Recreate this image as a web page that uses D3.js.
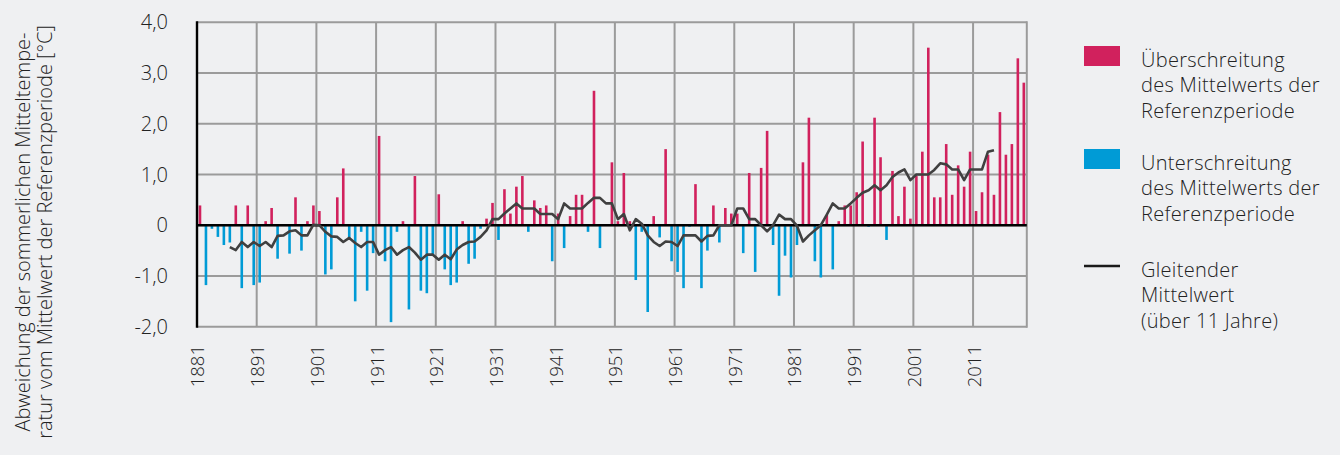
<!DOCTYPE html>
<html>
<head>
<meta charset="utf-8">
<script src="https://cdn.jsdelivr.net/npm/d3@7"></script>
<style>
  html, body { margin: 0; padding: 0; background: #eff0f2; }
  svg { display: block; font-family: "Open Sans", "Noto Sans", sans-serif; }
</style>
</head>
<body>
<svg id="chart" width="1340" height="455"></svg>
<script>
// ---- data ----
const firstYear = 1881;
const lastYear = 2019;
const years = d3.range(firstYear, lastYear + 1);

// summer temperature anomaly [°C] vs reference period, 1881–2019
const anomaly = [
  0.39, -1.18, -0.07, -0.23, -0.39, -0.34, 0.39, -1.24, 0.39, -1.18,   // 1881-1890
  -1.13, 0.08, 0.34, -0.66, 0.02, -0.56, 0.55, -0.50, 0.08, 0.39,      // 1891-1900
  0.28, -0.97, -0.87, 0.55, 1.12, -0.28, -1.50, -0.13, -1.29, -0.55,   // 1901-1910
  1.76, -0.71, -1.91, -0.13, 0.08, -1.66, 0.97, -1.29, -1.34, -0.60,   // 1911-1920
  0.61, -0.87, -1.18, -1.13, 0.08, -0.76, -0.66, -0.07, 0.13, 0.44,    // 1921-1930
  -0.29, 0.71, 0.23, 0.76, 0.97, -0.13, 0.49, 0.34, 0.39, -0.71,       // 1931-1940
  0.23, -0.45, 0.18, 0.60, 0.60, -0.13, 2.65, -0.45, 0.02, 1.24,       // 1941-1950
  0.08, 1.03, 0.08, -1.08, -0.13, -1.71, 0.18, -0.24, 1.50, -0.71,     // 1951-1960
  -0.92, -1.24, -0.03, 0.81, -1.24, -0.50, 0.39, -0.34, 0.34, 0.23,    // 1961-1970
  0.23, -0.55, 1.03, -0.92, 1.13, 1.86, -0.39, -1.39, -0.60, -1.03,    // 1971-1980
  -0.39, 1.24, 2.12, -0.71, -1.03, 0.20, -0.87, 0.08, 0.39, 0.39,      // 1981-1990
  0.65, 1.65, -0.03, 2.12, 1.34, -0.29, 1.07, 0.18, 0.76, 0.13,        // 1991-2000
  0.97, 1.45, 3.50, 0.55, 0.55, 1.60, 0.60, 1.18, 0.76, 1.45,          // 2001-2010
  0.28, 0.65, 1.39, 0.60, 2.23, 1.39, 1.60, 3.29, 2.81                 // 2011-2019
];

// 11-year moving average, 1886–2014
const maFirstYear = 1886;
const movingAvg = [
  -0.43, -0.49, -0.33, -0.43, -0.33,                                    // 1886-1890
  -0.41, -0.33, -0.43, -0.21, -0.20, -0.12, -0.10, -0.20, -0.20, 0.01,  // 1891-1900
  0.00, -0.13, -0.22, -0.23, -0.33, -0.25, -0.35, -0.43, -0.33, -0.33,  // 1901-1910
  -0.58, -0.49, -0.43, -0.58, -0.49, -0.43, -0.54, -0.68, -0.58, -0.58, // 1911-1920
  -0.68, -0.58, -0.67, -0.48, -0.39, -0.33, -0.32, -0.23, -0.10, 0.12,  // 1921-1930
  0.12, 0.23, 0.33, 0.43, 0.33, 0.33, 0.33, 0.22, 0.22, 0.22,           // 1931-1940
  0.12, 0.43, 0.33, 0.33, 0.33, 0.44, 0.54, 0.54, 0.43, 0.43,           // 1941-1950
  0.12, 0.22, -0.10, 0.12, 0.03, -0.20, -0.33, -0.41, -0.32, -0.33,     // 1951-1960
  -0.41, -0.20, -0.20, -0.20, -0.32, -0.21, -0.20, 0.00, 0.00, 0.00,    // 1961-1970
  0.33, 0.33, 0.12, 0.12, 0.00, -0.12, 0.00, 0.21, 0.12, 0.12,          // 1971-1980
  -0.01, -0.32, -0.20, -0.10, 0.00, 0.21, 0.43, 0.33, 0.33, 0.43,       // 1981-1990
  0.54, 0.64, 0.69, 0.79, 0.69, 0.79, 0.95, 1.04, 1.10, 0.89,           // 1991-2000
  1.00, 1.00, 1.00, 1.09, 1.22, 1.20, 1.10, 1.10, 0.89, 1.10,           // 2001-2010
  1.10, 1.10, 1.45, 1.48                                                // 2011-2014
];

const labelYears = d3.range(1881, 2012, 10);
const yTicks = [4, 3, 2, 1, 0, -1, -2];
const yTickLabels = ["4,0", "3,0", "2,0", "1,0", "0", "-1,0", "-2,0"];

const yTitleLines = [
  "Abweichung der sommerlichen Mitteltempe-",
  "ratur vom Mittelwert der Referenzperiode [°C]"
];
const legendItems = [
  { type: "rect", color: "#d1215d", lines: ["Überschreitung", "des Mittelwerts der", "Referenzperiode"] },
  { type: "rect", color: "#009bd6", lines: ["Unterschreitung", "des Mittelwerts der", "Referenzperiode"] },
  { type: "line", color: "#1a1a1a", lines: ["Gleitender", "Mittelwert", "(über 11 Jahre)"] }
];

// ---- layout ----
const svg = d3.select("#chart");
const plotLeft = 197, plotRight = 1026.8, plotTop = 22.3, plotBottom = 326.7;
const posColor = "#d1215d", negColor = "#009bd6";
const gridColor = "#9b9b9b";
const textColor = "#222222";
const fw = 300;

const x = d3.scaleBand().domain(years).range([plotLeft, plotRight]).padding(0);
const y = d3.scaleLinear().domain([-2, 4]).range([plotBottom, plotTop]);
const bw = x.bandwidth();
const barW = 2.6;

// grid
const grid = svg.append("g");
grid.selectAll("line.h").data(yTicks).join("line")
  .attr("x1", plotLeft).attr("x2", plotRight)
  .attr("y1", d => y(d)).attr("y2", d => y(d))
  .attr("stroke", gridColor).attr("stroke-width", 2);
grid.selectAll("line.v").data(labelYears.slice(1)).join("line")
  .attr("x1", d => x(d)).attr("x2", d => x(d))
  .attr("y1", plotTop).attr("y2", plotBottom)
  .attr("stroke", gridColor).attr("stroke-width", 2);
grid.append("line")
  .attr("x1", plotRight).attr("x2", plotRight)
  .attr("y1", plotTop - 1).attr("y2", plotBottom + 1)
  .attr("stroke", gridColor).attr("stroke-width", 2);

// bars
const data = years.map((yr, i) => ({ year: yr, v: anomaly[i] }));
svg.append("g").selectAll("rect").data(data).join("rect")
  .attr("x", d => x(d.year) + (bw - barW) / 2)
  .attr("width", barW)
  .attr("y", d => y(Math.max(0, d.v)))
  .attr("height", d => Math.abs(y(d.v) - y(0)))
  .attr("fill", d => d.v >= 0 ? posColor : negColor);

// zero line and left axis
svg.append("line")
  .attr("x1", plotLeft).attr("x2", plotRight)
  .attr("y1", y(0)).attr("y2", y(0))
  .attr("stroke", "#000").attr("stroke-width", 2.6);
svg.append("line")
  .attr("x1", plotLeft).attr("x2", plotLeft)
  .attr("y1", plotTop - 1).attr("y2", plotBottom + 1)
  .attr("stroke", "#000").attr("stroke-width", 2.4);

// moving average
const maData = movingAvg.map((v, i) => ({ year: maFirstYear + i, v }));
svg.append("path")
  .datum(maData)
  .attr("fill", "none")
  .attr("stroke", "#404040")
  .attr("stroke-width", 2.6)
  .attr("stroke-linejoin", "round")
  .attr("d", d3.line().x(d => x(d.year) + bw / 2).y(d => y(d.v)));

// y tick labels
svg.append("g").selectAll("text").data(yTicks).join("text")
  .attr("x", 168).attr("y", d => y(d))
  .attr("dy", "0.35em")
  .attr("text-anchor", "end")
  .attr("font-size", 20)
  .attr("font-weight", fw)
  .attr("fill", textColor)
  .text((d, i) => yTickLabels[i]);

// x tick labels
svg.append("g").selectAll("text").data(labelYears).join("text")
  .attr("transform", d => `translate(${x(d) + 1},345) rotate(-90)`)
  .attr("dy", "0.35em")
  .attr("text-anchor", "end")
  .attr("font-size", 18.5)
  .attr("font-weight", fw)
  .attr("fill", textColor)
  .text(d => d);

// y title
svg.append("g").selectAll("text").data(yTitleLines).join("text")
  .attr("transform", (d, i) => `translate(${29.5 + i * 22.5},232) rotate(-90)`)
  .attr("text-anchor", "middle")
  .attr("font-size", 20)
  .attr("font-weight", fw)
  .attr("fill", textColor)
  .text(d => d);

// legend
const legend = svg.append("g");
const groupTops = [46, 149, 256];
legendItems.forEach((it, gi) => {
  const top = groupTops[gi];
  if (it.type === "rect") {
    legend.append("rect").attr("x", 1084).attr("y", top).attr("width", 36).attr("height", 20).attr("fill", it.color);
  } else {
    legend.append("line").attr("x1", 1084).attr("x2", 1120).attr("y1", top + 10).attr("y2", top + 10)
      .attr("stroke", it.color).attr("stroke-width", 2.4);
  }
  it.lines.forEach((t, li) => {
    legend.append("text")
      .attr("x", 1141).attr("y", top + 21 + li * 25.3)
      .attr("font-size", 20)
      .attr("font-weight", fw)
      .attr("letter-spacing", 0.3)
      .attr("fill", textColor)
      .text(t);
  });
});
</script>
</body>
</html>
